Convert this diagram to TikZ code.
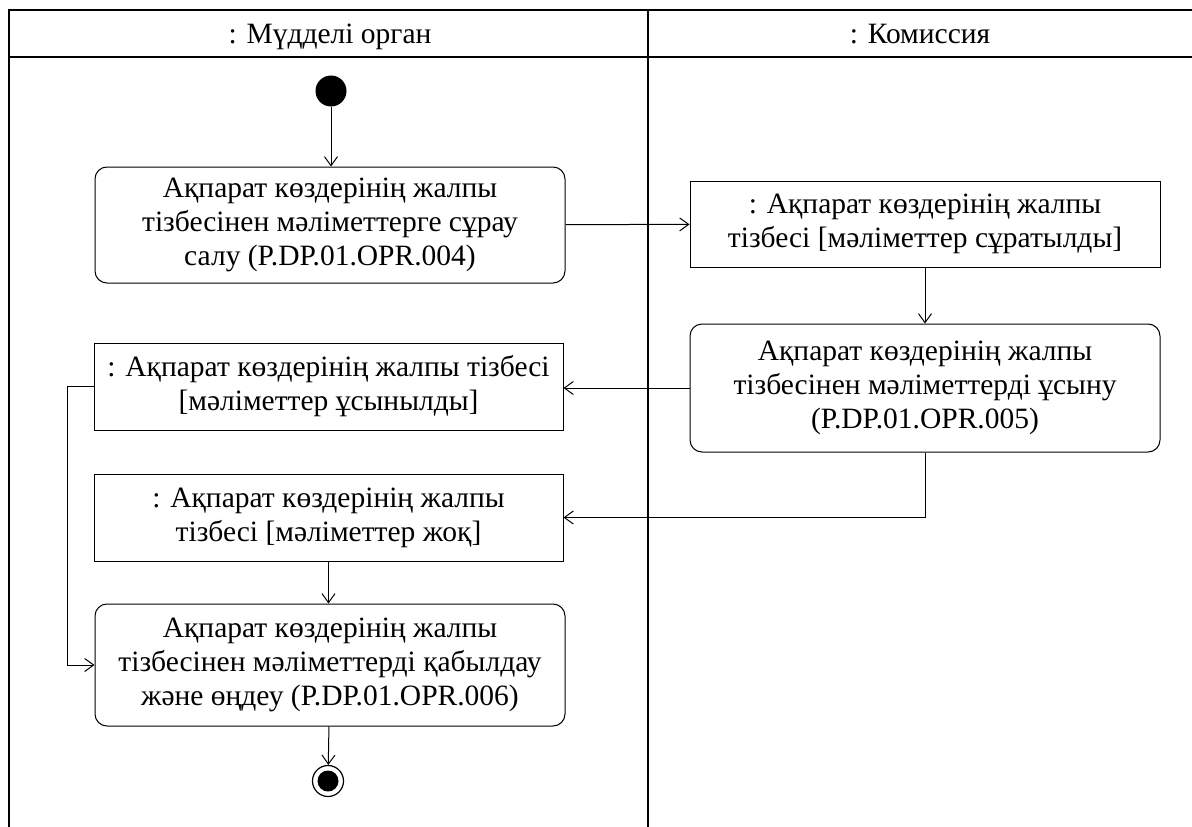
\documentclass[tikz,border=0pt]{standalone}
\usepackage{fontspec}
\setmainfont{Liberation Serif}
\usetikzlibrary{arrows.meta}
\tikzset{act/.style={draw,rounded corners=12pt,line width=1pt,inner sep=0pt,align=center,
    font=\fontsize{29.5}{34}\selectfont}}
\tikzset{obj/.style={draw,line width=1pt,inner sep=0pt,align=center,
    font=\fontsize{29.5}{34}\selectfont}}
\tikzset{lane/.style={anchor=base,font=\fontsize{29.5}{34}\selectfont}}
\tikzset{flow/.style={line width=1pt,-{Straight Barb[length=9pt,width=13pt]}}}

\begin{document}
\begin{tikzpicture}[x=1pt,y=-1pt]
                \useasboundingbox (0,0) rectangle (1192,827);
                
                % Swimlanes
                \draw[line width=1.5pt] (9,827) -- (9,10) -- (1192,10);
                \draw[line width=1.5pt] (9,57) -- (1192,57);
                \draw[line width=1.5pt] (648,10) -- (648,827);
                \node[lane] (lane1) at (330,43) {: Мүдделі орган};
                \node[lane] (lane2) at (920,43) {: Комиссия};
                
                % Start and end
                \node[circle,fill,inner sep=0pt,minimum size=31pt] (start) at (331,91) {};
                \node[circle,draw,line width=1.2pt,inner sep=0pt,minimum size=31pt] (end) at (328,781) {};
                \fill (end) circle (10.5pt);
                
                % Actions
                \node[act,minimum width=470pt,minimum height=116pt] (request) at (330,225)
                    {Ақпарат көздерінің жалпы\\тізбесінен мәліметтерге сұрау\\салу (P.DP.01.OPR.004)};
                \node[act,minimum width=470pt,minimum height=128pt] (provide) at (925,388)
                    {Ақпарат көздерінің жалпы\\тізбесінен мәліметтерді ұсыну\\(P.DP.01.OPR.005)};
                \node[act,minimum width=470pt,minimum height=122pt] (receive) at (330,665)
                    {Ақпарат көздерінің жалпы\\тізбесінен мәліметтерді қабылдау\\және өңдеу (P.DP.01.OPR.006)};
                
                % Objects
                \node[obj,minimum width=470pt,minimum height=86pt] (asked) at (925,224)
                    {: Ақпарат көздерінің жалпы\\тізбесі [мәліметтер сұратылды]};
                \node[obj,minimum width=469pt,minimum height=87pt] (given) at (328.5,386.5)
                    {: Ақпарат көздерінің жалпы тізбесі\\{[}мәліметтер ұсынылды{]}};
                \node[obj,minimum width=469pt,minimum height=87pt] (none) at (328.5,517.5)
                    {: Ақпарат көздерінің жалпы\\тізбесі [мәліметтер жоқ]};
                
                % Flows
                \draw[flow] (start) -- (request.north -| start);
                \draw[flow] (request) -- (asked);
                \draw[flow] (asked) -- (provide);
                \draw[flow] (provide.west) -- (given.east |- provide.west);
                \draw[flow] (provide) |- (none);
                \draw[flow] (none) -- (receive.north -| none);
                \draw[flow] (given.west) -- ++(-26,0) |- (receive.west);
                \draw[flow] (receive) -- (end);
            \end{tikzpicture}
\end{document}
